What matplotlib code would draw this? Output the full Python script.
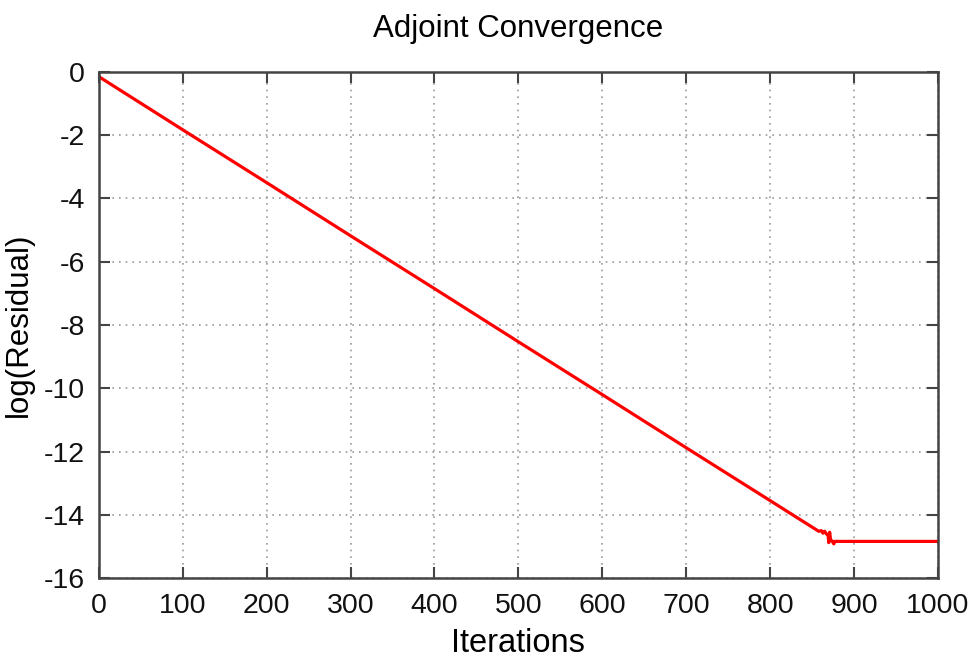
import numpy as np
import matplotlib
matplotlib.use('Agg')
import matplotlib.pyplot as plt

# values
iterations = [0, 100, 200, 300, 400, 500, 600, 700, 800, 840, 855,
              858, 861, 863, 865, 867, 869, 870, 871, 872, 874, 876, 877, 1000]
log_residual = [-0.15, -1.83, -3.50, -5.18, -6.85, -8.53, -10.20, -11.88, -13.55,
                -14.22, -14.47, -14.52, -14.50, -14.58, -14.52, -14.60, -14.62,
                -14.88, -14.55, -14.78, -14.83, -14.92, -14.84, -14.84]

x_ticks = np.arange(0, 1001, 100)
y_ticks = np.arange(-16, 1, 2)

plt.rcParams['font.family'] = ['Liberation Sans', 'DejaVu Sans']
plt.rcParams['axes.unicode_minus'] = False

fig = plt.figure(figsize=(9.79, 6.66), dpi=100)
ax = fig.add_axes([0.101, 0.132, 0.857, 0.760])

ax.plot(iterations, log_residual, color='#ff0000', linewidth=2.3)

ax.set_xlim(0, 1000)
ax.set_ylim(-16, 0)
ax.set_xticks(x_ticks)
ax.set_yticks(y_ticks)
ax.grid(True, color='#999999', linestyle=(0, (1, 3)), linewidth=1.2)
ax.tick_params(direction='in', length=8, width=1.5, color='#444444',
               top=True, right=True, labelsize=20.5, labelcolor='#111111')
ax.tick_params(axis='x', pad=11)
ax.tick_params(axis='y', pad=10)
for sp in ax.spines.values():
    sp.set_linewidth(1.8)
    sp.set_color('#444444')

ax.set_title('Adjoint Convergence', fontsize=22.5, pad=25)
ax.set_xlabel('Iterations', fontsize=23.5, labelpad=6)
ax.set_ylabel('log(Residual)', fontsize=22.5, labelpad=7)

fig.savefig('out.png', dpi=100, facecolor='white')
